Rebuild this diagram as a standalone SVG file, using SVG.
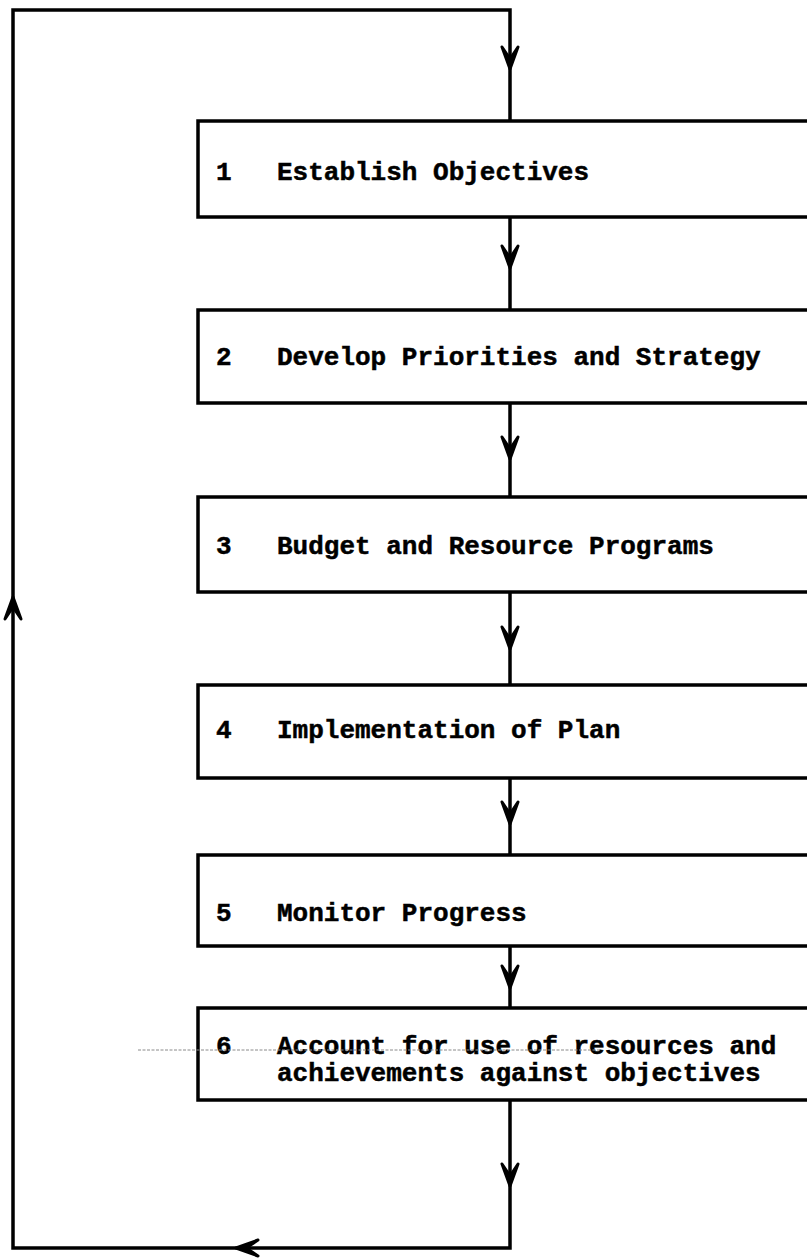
<svg xmlns="http://www.w3.org/2000/svg" xmlns:xlink="http://www.w3.org/1999/xlink" width="807" height="1260" viewBox="0 0 807 1260">
  <style>
    .box { fill: #ffffff; stroke: #000000; stroke-width: 3.5; }
    .wire { fill: none; stroke: #000000; stroke-width: 3.5; stroke-linejoin: miter; }
    .lbl { font-family: "Liberation Mono", "DejaVu Sans Mono", monospace; font-weight: bold; font-size: 26px; fill: #000000; stroke: #000000; stroke-width: 0.5; }
    .head { fill: #000000; stroke: #000000; stroke-width: 3; stroke-linejoin: round; stroke-linecap: round; }
    .faint { stroke: #8a8a8a; stroke-width: 1; stroke-dasharray: 3 1.5; fill: none; }
  </style>
  <defs>
    <!-- downward arrowhead, tip at origin -->
    <path id="ah" class="head" d="M0,1 L-8,-21 L0,-9 L8,-21 Z"/>
  </defs>

  <rect width="807" height="1260" fill="#ffffff"/>

  <!-- connectors -->
  <g id="connectors">
    <!-- feedback loop -->
    <path class="wire" d="M510,121 L510,10 L13,10 L13,1248 L510,1248 L510,1100"/>
    <!-- links between steps -->
    <line class="wire" x1="510" y1="217" x2="510" y2="310"/>
    <line class="wire" x1="510" y1="403" x2="510" y2="497"/>
    <line class="wire" x1="510" y1="592" x2="510" y2="685"/>
    <line class="wire" x1="510" y1="778" x2="510" y2="855"/>
    <line class="wire" x1="510" y1="946" x2="510" y2="1008"/>

    <use xlink:href="#ah" transform="translate(510,68)"/>
    <use xlink:href="#ah" transform="translate(510,267)"/>
    <use xlink:href="#ah" transform="translate(510,458)"/>
    <use xlink:href="#ah" transform="translate(510,648)"/>
    <use xlink:href="#ah" transform="translate(510,823)"/>
    <use xlink:href="#ah" transform="translate(510,987)"/>
    <use xlink:href="#ah" transform="translate(510,1185)"/>
    <!-- upward on the left return -->
    <use xlink:href="#ah" transform="translate(13,598) rotate(180)"/>
    <!-- leftward along the bottom -->
    <use xlink:href="#ah" transform="translate(237,1248) rotate(90)"/>
  </g>

  <g id="step1">
    <rect class="box" x="198" y="121" width="700" height="96"/>
    <text class="lbl" x="216" y="180">1</text>
    <text class="lbl" x="277" y="180">Establish Objectives</text>
  </g>

  <g id="step2">
    <rect class="box" x="198" y="310" width="700" height="93"/>
    <text class="lbl" x="216" y="365">2</text>
    <text class="lbl" x="277" y="365">Develop Priorities and Strategy</text>
  </g>

  <g id="step3">
    <rect class="box" x="198" y="497" width="700" height="95"/>
    <text class="lbl" x="216" y="554">3</text>
    <text class="lbl" x="277" y="554">Budget and Resource Programs</text>
  </g>

  <g id="step4">
    <rect class="box" x="198" y="685" width="700" height="93"/>
    <text class="lbl" x="216" y="738">4</text>
    <text class="lbl" x="277" y="738">Implementation of Plan</text>
  </g>

  <g id="step5">
    <rect class="box" x="198" y="855" width="700" height="91"/>
    <text class="lbl" x="216" y="921">5</text>
    <text class="lbl" x="277" y="921">Monitor Progress</text>
  </g>

  <g id="step6">
    <rect class="box" x="198" y="1008" width="700" height="92"/>
    <text class="lbl" x="216" y="1054">6</text>
    <text class="lbl" x="277" y="1054">Account for use of resources and</text>
    <text class="lbl" x="277" y="1081">achievements against objectives</text>
  </g>

  <!-- thin rule through the first line of step 6 -->
  <line class="faint" x1="138" y1="1050" x2="600" y2="1050"/>
</svg>
